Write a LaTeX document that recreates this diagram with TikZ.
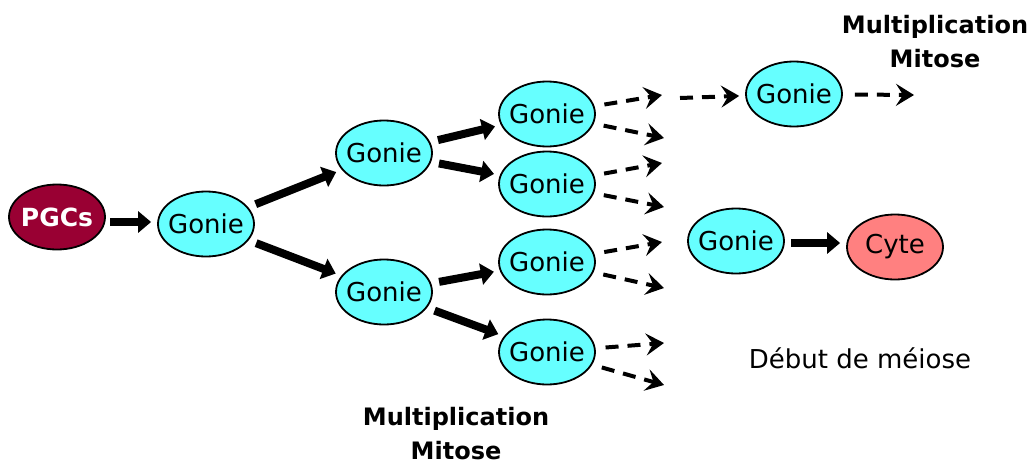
\documentclass[tikz,border=0pt]{standalone}
\usepackage{fontspec}
\setmainfont{DejaVu Sans}
\usetikzlibrary{shapes.geometric,arrows.meta}
\definecolor{pgc}{HTML}{990033}
\definecolor{gon}{HTML}{66FFFF}
\definecolor{cyt}{HTML}{FF8080}
\tikzset{
  cell/.style={ellipse, draw=black, line width=1.8pt, minimum width=96pt, minimum height=65pt, inner xsep=-6pt, inner ysep=0pt, font=\fontsize{26}{30}\selectfont},
  gonie/.style={cell, fill=gon},
  thickarrow/.style={line width=8pt, -{Triangle[length=13pt,width=21pt]}, shorten <=8pt, shorten >=6pt},
  dasharrow/.style={line width=4pt, dash pattern=on 13pt off 9pt, -{Stealth[length=18pt,width=22pt,inset=7pt]}},
  lbl/.style={font=\fontsize{24}{34}\selectfont\bfseries, align=center},
}
\begin{document}
\begin{tikzpicture}[x=1pt,y=-1pt]
\useasboundingbox (0,0) rectangle (1033,466);
\node[cell, fill=pgc, text=white, font=\fontsize{25}{30}\selectfont\bfseries] (pgc) at (57,217) {PGCs};
\node[gonie] (g1) at (206,224) {Gonie};
\node[gonie] (g2) at (384,153) {Gonie};
\node[gonie] (g3) at (384,292) {Gonie};
\node[gonie] (ga) at (547,114) {Gonie};
\node[gonie] (gb) at (547,184) {Gonie};
\node[gonie] (gc) at (547,262) {Gonie};
\node[gonie] (gd) at (547,352) {Gonie};
\node[gonie] (gt) at (794,94) {Gonie};
\node[gonie] (gm) at (736,241) {Gonie};
\node[cell, fill=cyt] (cy) at (895,247) {Cyte};

\coordinate (p1) at (110,222);
\coordinate (m1) at (791,243);
\draw[thickarrow, shorten <=0pt] (p1) -- (g1.west |- p1);
\draw[thickarrow] (g1) -- (g2);
\draw[thickarrow] (g1) -- (g3);
\draw[thickarrow] (g2) -- (ga);
\draw[thickarrow] (g2) -- (gb);
\draw[thickarrow] (g3) -- (gc);
\draw[thickarrow] (g3) -- (gd);
\draw[thickarrow, shorten <=0pt] (m1) -- (cy.west |- m1);

\coordinate (a1) at (662,95);
\coordinate (a2) at (664,138);
\coordinate (b1) at (662,163);
\coordinate (b2) at (664,207);
\coordinate (c1) at (662,242);
\coordinate (c2) at (664,288);
\coordinate (d1) at (664,343);
\coordinate (d2) at (664,385);
\coordinate (t0) at (680,98);
\coordinate (t1) at (914,95);
\draw[dasharrow, shorten <=10pt] (ga) -- (a1);
\draw[dasharrow, shorten <=10pt] (ga) -- (a2);
\draw[dasharrow, shorten <=10pt] (gb) -- (b1);
\draw[dasharrow, shorten <=10pt] (gb) -- (b2);
\draw[dasharrow, shorten <=10pt] (gc) -- (c1);
\draw[dasharrow, shorten <=10pt] (gc) -- (c2);
\draw[dasharrow, shorten <=10pt] (gd) -- (d1);
\draw[dasharrow, shorten <=10pt] (gd) -- (d2);
\draw[dasharrow, shorten >=6pt] (t0) -- (gt);
\draw[dasharrow, shorten <=12pt] (gt) -- (t1);

\node[lbl] (lt) at (935,42) {Multiplication\\Mitose};
\node[lbl] (lb) at (456,434) {Multiplication\\Mitose};
\node[font=\fontsize{26}{30}\selectfont] (deb) at (860,358) {Début de méiose};
\end{tikzpicture}
\end{document}
